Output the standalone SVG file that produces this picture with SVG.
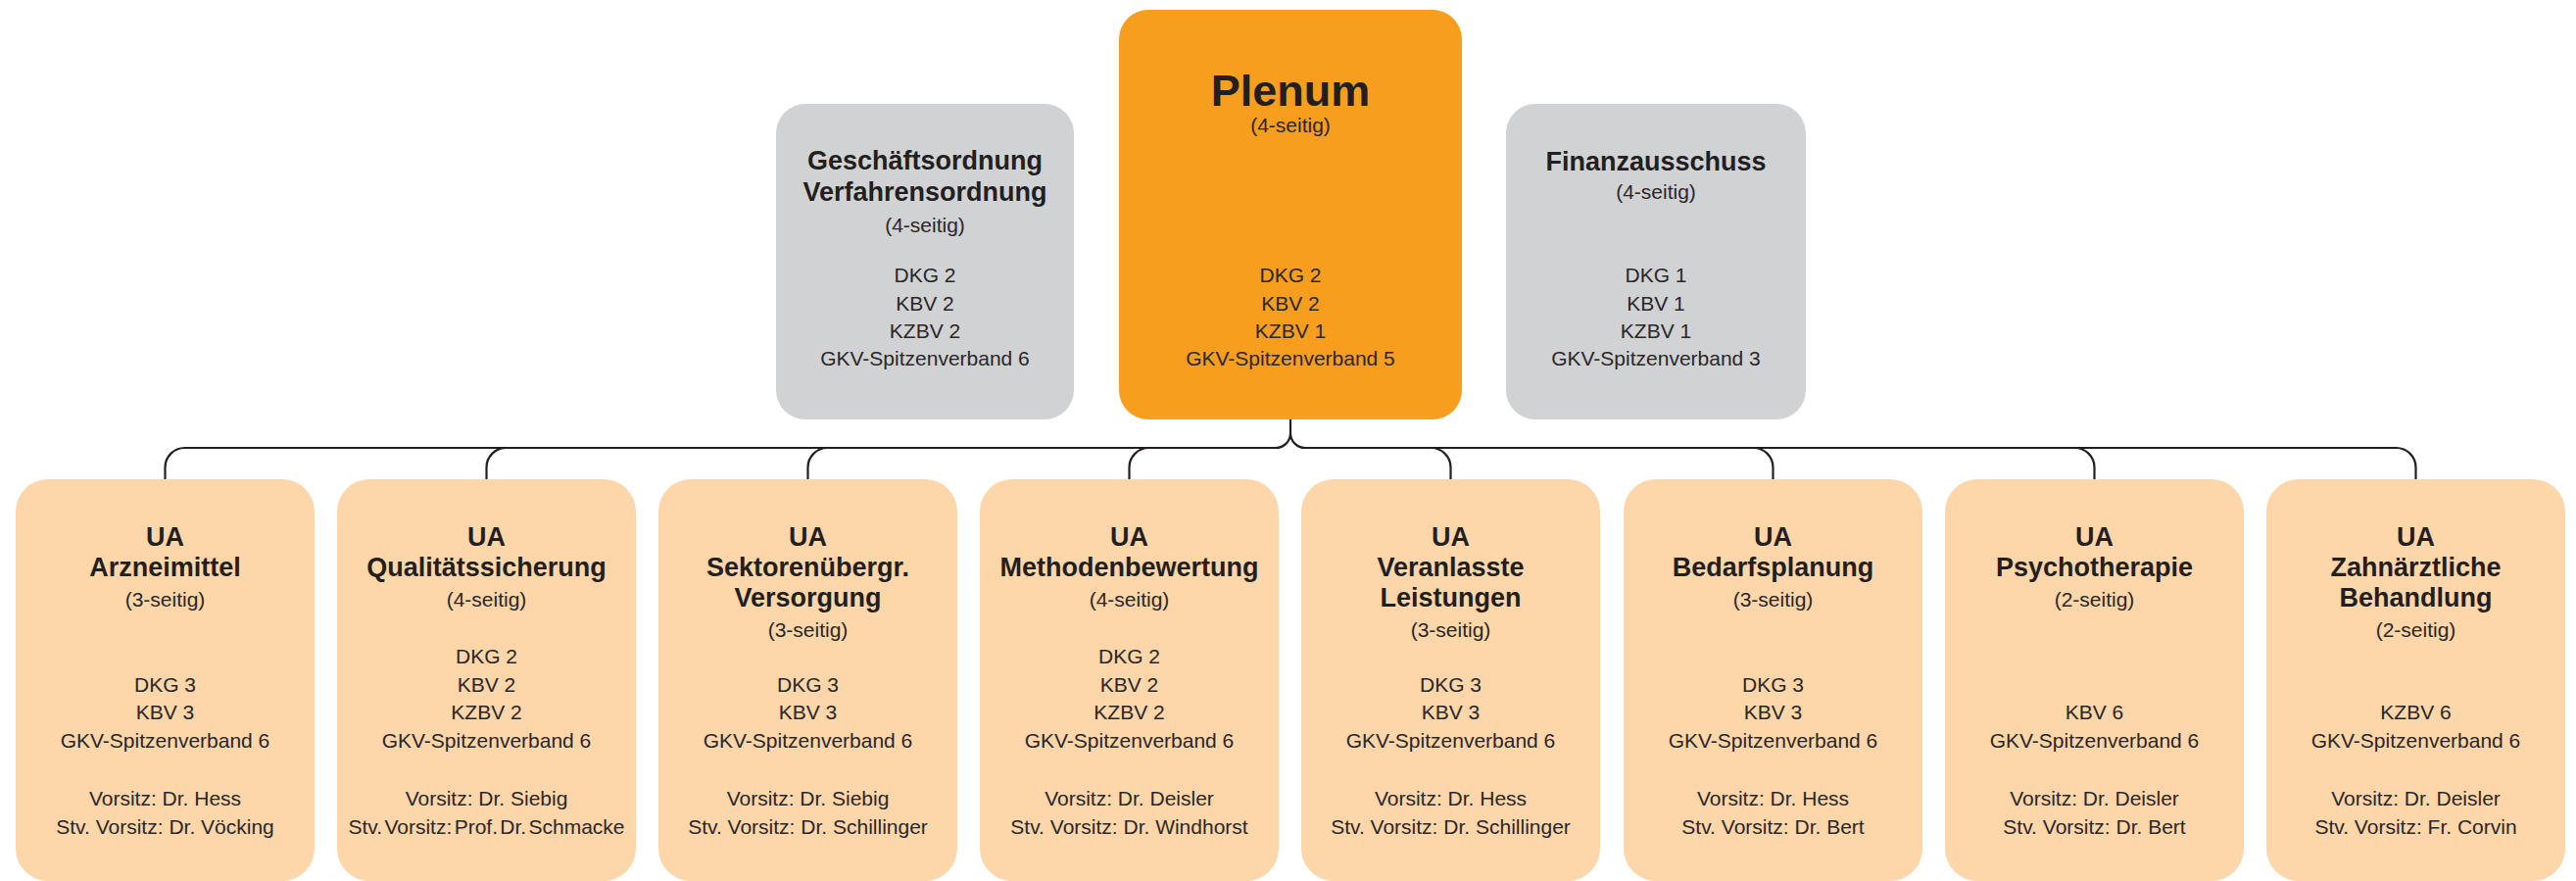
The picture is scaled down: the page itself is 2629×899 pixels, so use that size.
<svg xmlns="http://www.w3.org/2000/svg" width="2629" height="899" viewBox="0 0 2629 899">
<style>
text{font-family:"Liberation Sans",Arial,sans-serif;fill:#231f20;text-anchor:middle}
.b{font-weight:bold;font-size:27px}
.r{font-size:21px;fill:#2b2728}
.big{font-weight:bold;font-size:45px}
.ua{fill:#fdd6a9}
.gray{fill:#d1d2d4}
.orange{fill:#f79e1e}
.c{fill:none;stroke:#231f20;stroke-width:2.2}
</style>
<rect width="2629" height="899" fill="#ffffff"/>
<g id="connectors">
<path class="c" d="M1317 428 V442 A15 15 0 0 1 1302 457 H188.5 A20 20 0 0 0 168.5 477 V489"/>
<path class="c" d="M1317 442 A15 15 0 0 0 1332 457 H2445.5 A20 20 0 0 1 2465.5 477 V489"/>
<path class="c" d="M496.5 489 V477 A20 20 0 0 1 516.5 457"/>
<path class="c" d="M824.5 489 V477 A20 20 0 0 1 844.5 457"/>
<path class="c" d="M1152.5 489 V477 A20 20 0 0 1 1172.5 457"/>
<path class="c" d="M1480.5 489 V477 A20 20 0 0 0 1460.5 457"/>
<path class="c" d="M1809.5 489 V477 A20 20 0 0 0 1789.5 457"/>
<path class="c" d="M2137.5 489 V477 A20 20 0 0 0 2117.5 457"/>
</g>
<g id="plenum">
<rect class="orange" x="1142" y="10" width="350" height="418" rx="30"/>
<text class="big" x="1317" y="108">Plenum</text>
<text class="r" x="1317" y="135">(4-seitig)</text>
<text class="r" x="1317" y="288">DKG 2</text>
<text class="r" x="1317" y="317">KBV 2</text>
<text class="r" x="1317" y="345">KZBV 1</text>
<text class="r" x="1317" y="373">GKV-Spitzenverband 5</text>
</g>
<g id="geschaeftsordnung">
<rect class="gray" x="792" y="106" width="304" height="322" rx="30"/>
<text class="b" x="944" y="173">Geschäftsordnung</text>
<text class="b" x="944" y="205">Verfahrensordnung</text>
<text class="r" x="944" y="237">(4-seitig)</text>
<text class="r" x="944" y="288">DKG 2</text>
<text class="r" x="944" y="317">KBV 2</text>
<text class="r" x="944" y="345">KZBV 2</text>
<text class="r" x="944" y="373">GKV-Spitzenverband 6</text>
</g>
<g id="finanzausschuss">
<rect class="gray" x="1537" y="106" width="306" height="322" rx="30"/>
<text class="b" x="1690" y="174">Finanzausschuss</text>
<text class="r" x="1690" y="203">(4-seitig)</text>
<text class="r" x="1690" y="288">DKG 1</text>
<text class="r" x="1690" y="317">KBV 1</text>
<text class="r" x="1690" y="345">KZBV 1</text>
<text class="r" x="1690" y="373">GKV-Spitzenverband 3</text>
</g>
<g id="ua-arzneimittel">
<rect class="ua" x="16" y="489" width="305" height="410" rx="33"/>
<text class="b" x="168.5" y="557">UA</text>
<text class="b" x="168.5" y="588">Arzneimittel</text>
<text class="r" x="168.5" y="619">(3-seitig)</text>
<text class="r" x="168.5" y="706">DKG 3</text>
<text class="r" x="168.5" y="734">KBV 3</text>
<text class="r" x="168.5" y="763">GKV-Spitzenverband 6</text>
<text class="r" x="168.5" y="822">Vorsitz: Dr. Hess</text>
<text class="r" x="168.5" y="851">Stv. Vorsitz: Dr. Vöcking</text>
</g>
<g id="ua-qualitaetssicherung">
<rect class="ua" x="344" y="489" width="305" height="410" rx="33"/>
<text class="b" x="496.5" y="557">UA</text>
<text class="b" x="496.5" y="588">Qualitätssicherung</text>
<text class="r" x="496.5" y="619">(4-seitig)</text>
<text class="r" x="496.5" y="677">DKG 2</text>
<text class="r" x="496.5" y="706">KBV 2</text>
<text class="r" x="496.5" y="734">KZBV 2</text>
<text class="r" x="496.5" y="763">GKV-Spitzenverband 6</text>
<text class="r" x="496.5" y="822">Vorsitz: Dr. Siebig</text>
<text class="r" x="496.5" y="851" word-spacing="-3.5">Stv. Vorsitz: Prof. Dr. Schmacke</text>
</g>
<g id="ua-sektoren">
<rect class="ua" x="672" y="489" width="305" height="410" rx="33"/>
<text class="b" x="824.5" y="557">UA</text>
<text class="b" x="824.5" y="588">Sektorenübergr.</text>
<text class="b" x="824.5" y="619">Versorgung</text>
<text class="r" x="824.5" y="650">(3-seitig)</text>
<text class="r" x="824.5" y="706">DKG 3</text>
<text class="r" x="824.5" y="734">KBV 3</text>
<text class="r" x="824.5" y="763">GKV-Spitzenverband 6</text>
<text class="r" x="824.5" y="822">Vorsitz: Dr. Siebig</text>
<text class="r" x="824.5" y="851">Stv. Vorsitz: Dr. Schillinger</text>
</g>
<g id="ua-methodenbewertung">
<rect class="ua" x="1000" y="489" width="305" height="410" rx="33"/>
<text class="b" x="1152.5" y="557">UA</text>
<text class="b" x="1152.5" y="588">Methodenbewertung</text>
<text class="r" x="1152.5" y="619">(4-seitig)</text>
<text class="r" x="1152.5" y="677">DKG 2</text>
<text class="r" x="1152.5" y="706">KBV 2</text>
<text class="r" x="1152.5" y="734">KZBV 2</text>
<text class="r" x="1152.5" y="763">GKV-Spitzenverband 6</text>
<text class="r" x="1152.5" y="822">Vorsitz: Dr. Deisler</text>
<text class="r" x="1152.5" y="851">Stv. Vorsitz: Dr. Windhorst</text>
</g>
<g id="ua-veranlasste-leistungen">
<rect class="ua" x="1328" y="489" width="305" height="410" rx="33"/>
<text class="b" x="1480.5" y="557">UA</text>
<text class="b" x="1480.5" y="588">Veranlasste</text>
<text class="b" x="1480.5" y="619">Leistungen</text>
<text class="r" x="1480.5" y="650">(3-seitig)</text>
<text class="r" x="1480.5" y="706">DKG 3</text>
<text class="r" x="1480.5" y="734">KBV 3</text>
<text class="r" x="1480.5" y="763">GKV-Spitzenverband 6</text>
<text class="r" x="1480.5" y="822">Vorsitz: Dr. Hess</text>
<text class="r" x="1480.5" y="851">Stv. Vorsitz: Dr. Schillinger</text>
</g>
<g id="ua-bedarfsplanung">
<rect class="ua" x="1657" y="489" width="305" height="410" rx="33"/>
<text class="b" x="1809.5" y="557">UA</text>
<text class="b" x="1809.5" y="588">Bedarfsplanung</text>
<text class="r" x="1809.5" y="619">(3-seitig)</text>
<text class="r" x="1809.5" y="706">DKG 3</text>
<text class="r" x="1809.5" y="734">KBV 3</text>
<text class="r" x="1809.5" y="763">GKV-Spitzenverband 6</text>
<text class="r" x="1809.5" y="822">Vorsitz: Dr. Hess</text>
<text class="r" x="1809.5" y="851">Stv. Vorsitz: Dr. Bert</text>
</g>
<g id="ua-psychotherapie">
<rect class="ua" x="1985" y="489" width="305" height="410" rx="33"/>
<text class="b" x="2137.5" y="557">UA</text>
<text class="b" x="2137.5" y="588">Psychotherapie</text>
<text class="r" x="2137.5" y="619">(2-seitig)</text>
<text class="r" x="2137.5" y="734">KBV 6</text>
<text class="r" x="2137.5" y="763">GKV-Spitzenverband 6</text>
<text class="r" x="2137.5" y="822">Vorsitz: Dr. Deisler</text>
<text class="r" x="2137.5" y="851">Stv. Vorsitz: Dr. Bert</text>
</g>
<g id="ua-zahnaerztliche-behandlung">
<rect class="ua" x="2313" y="489" width="305" height="410" rx="33"/>
<text class="b" x="2465.5" y="557">UA</text>
<text class="b" x="2465.5" y="588">Zahnärztliche</text>
<text class="b" x="2465.5" y="619">Behandlung</text>
<text class="r" x="2465.5" y="650">(2-seitig)</text>
<text class="r" x="2465.5" y="734">KZBV 6</text>
<text class="r" x="2465.5" y="763">GKV-Spitzenverband 6</text>
<text class="r" x="2465.5" y="822">Vorsitz: Dr. Deisler</text>
<text class="r" x="2465.5" y="851">Stv. Vorsitz: Fr. Corvin</text>
</g>
</svg>
